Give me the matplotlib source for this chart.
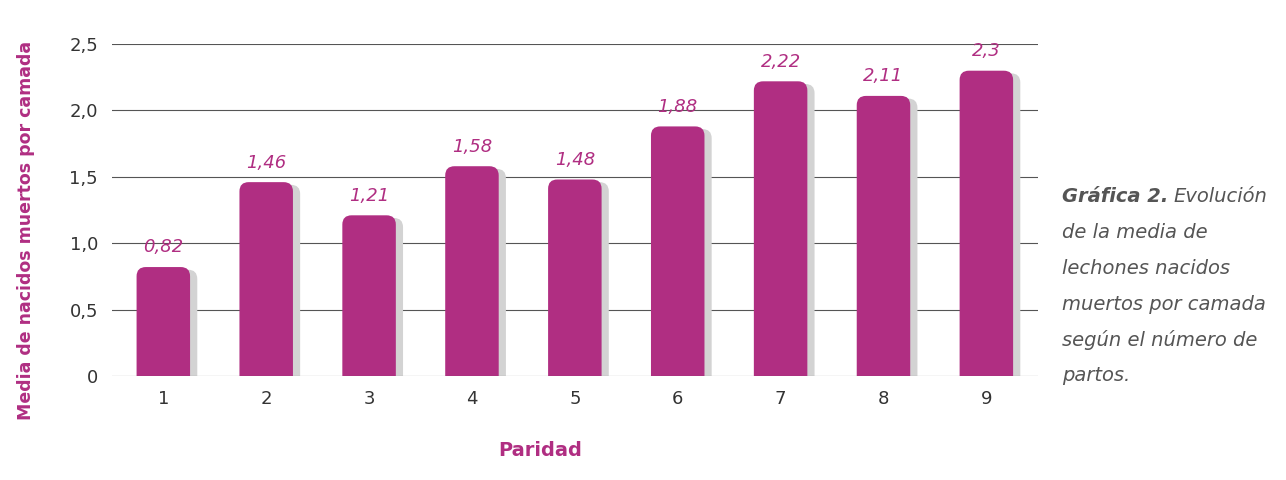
import matplotlib
matplotlib.use("Agg")
import matplotlib.pyplot as plt
from matplotlib.patches import FancyBboxPatch

categories = ["1", "2", "3", "4", "5", "6", "7", "8", "9"]
values = [0.82, 1.46, 1.21, 1.58, 1.48, 1.88, 2.22, 2.11, 2.3]
labels = ["0,82", "1,46", "1,21", "1,58", "1,48", "1,88", "2,22", "2,11", "2,3"]
yticks = [0, 0.5, 1.0, 1.5, 2.0, 2.5]
yticklabels = ["0", "0,5", "1,0", "1,5", "2,0", "2,5"]

FONT = ["DejaVu Sans Condensed", "Liberation Sans Narrow", "DejaVu Sans"]
plt.rcParams['font.family'] = FONT
color = "#B02E82"

fig = plt.figure(figsize=(12.86, 4.8), dpi=100)
ax = fig.add_axes([0.087, 0.217, 0.72, 0.691])
ax.set_xlim(0.5, 9.5)
ax.set_ylim(0, 2.5)
for y in yticks[1:]:
    ax.axhline(y, color="#555555", lw=0.8, zorder=0)
ax.axhline(0, color="#555555", lw=0.8, zorder=4)

w = 0.52
asp = 0.77
for i, v in enumerate(values):
    x = i + 1
    sh = FancyBboxPatch((x - w/2 + 0.07, -0.2), w, v + 0.2 - 0.02,
                        boxstyle="round,pad=0,rounding_size=0.09",
                        mutation_aspect=asp, fc="#D3D3D3", ec="none", zorder=1)
    ax.add_patch(sh)
    b = FancyBboxPatch((x - w/2, -0.2), w, v + 0.2,
                       boxstyle="round,pad=0,rounding_size=0.09",
                       mutation_aspect=asp, fc=color, ec="none", zorder=2)
    ax.add_patch(b)
    ax.text(x, v + 0.08, labels[i], ha="center", va="bottom", color=color,
            fontsize=13, style="italic")

ax.set_xticks(range(1, 10))
ax.set_xticklabels(categories, fontsize=13, color="#333333")
ax.set_yticks(yticks)
ax.set_yticklabels(yticklabels, fontsize=13, color="#333333")
ax.tick_params(length=0, pad=10)
for s in ax.spines.values():
    s.set_visible(False)

fig.text(0.42, 0.05, "Paridad", ha="center", fontsize=14, fontweight="bold", color=color)
fig.text(0.02, 0.52, "Media de nacidos muertos por camada", rotation=90, ha="center",
         va="center", fontsize=12.5, fontweight="bold", color=color)

cap = ["Evolución", "de la media de", "lechones nacidos", "muertos por camada",
       "según el número de", "partos."]
y0 = 0.59
x0 = 0.826
t = fig.text(x0, y0, "Gráfica 2.", fontsize=14, fontweight="bold", style="italic",
             color="#555555", va="center")
fig.canvas.draw()
bb = t.get_window_extent().transformed(fig.transFigure.inverted())
fig.text(bb.x1 + 0.004, y0, cap[0], fontsize=14, style="italic", color="#555555", va="center")
for k, line in enumerate(cap[1:]):
    fig.text(x0, y0 - (k + 1) * 0.0745, line, fontsize=14, style="italic",
             color="#555555", va="center")

fig.savefig("out.png", dpi=100)
